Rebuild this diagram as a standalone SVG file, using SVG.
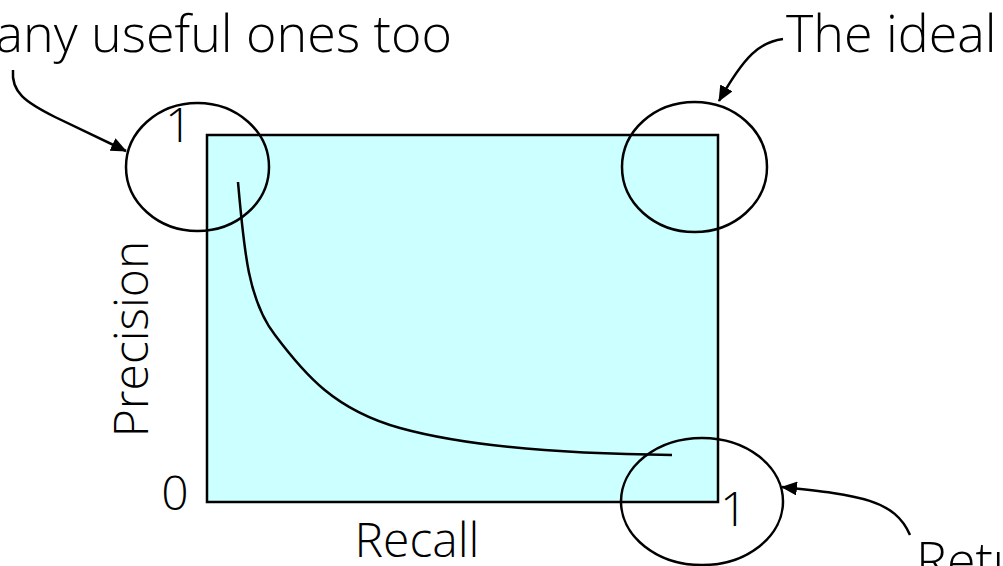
<svg xmlns="http://www.w3.org/2000/svg" width="1003" height="566" viewBox="0 0 1003 566">
<style>
text{font-family:"Open Sans","Noto Sans",sans-serif;font-weight:300;font-size:48px;fill:#000}
text.note{font-size:52px}
.ln{fill:none;stroke:#000;stroke-width:2.5}
</style>
<defs>
<marker id="ah" markerWidth="16" markerHeight="14" refX="15" refY="7" orient="auto" markerUnits="userSpaceOnUse">
<path d="M0,0 L16,7 L0,14 Z" fill="#000"/>
</marker>
</defs>
<rect width="1003" height="566" fill="#fff"/>
<g id="plot">
<rect x="207" y="135" width="511" height="367" fill="#ccffff" stroke="#000" stroke-width="2.5"/>
</g>
<g id="labels">
<text x="165" y="142">1</text>
<text x="175" y="510" text-anchor="middle">0</text>
<text x="720" y="526">1</text>
<text x="417" y="557" text-anchor="middle">Recall</text>
<text transform="translate(148,339) rotate(-90)" text-anchor="middle">Precision</text>
<text class="note" x="452" y="52" text-anchor="end">any useful ones too</text>
<text class="note" x="786" y="52">The ideal</text>
<text class="note" x="916" y="579">Retu</text>
</g>
<g id="curve">
<path class="ln" d="M238,182 C244,250 248,300 275,335 C305,375 335,410 400,428 C465,446 560,454 672,455"/>
</g>
<g id="circle-top-left"><ellipse class="ln" cx="197.5" cy="167" rx="71.5" ry="64"/></g>
<g id="circle-top-right"><ellipse class="ln" cx="694.5" cy="167" rx="72.5" ry="65"/></g>
<g id="circle-bottom-right"><ellipse class="ln" cx="702" cy="501.5" rx="81" ry="63.5"/></g>
<g id="connectors">
<path class="ln" d="M13,70 C11,92 25,102 55,117 L126,151" marker-end="url(#ah)"/>
<path class="ln" d="M783,39 C760,42 745,55 719,101" marker-end="url(#ah)"/>
<path class="ln" d="M910,535 C895,500 860,495 782,487" marker-end="url(#ah)"/>
</g>
</svg>
